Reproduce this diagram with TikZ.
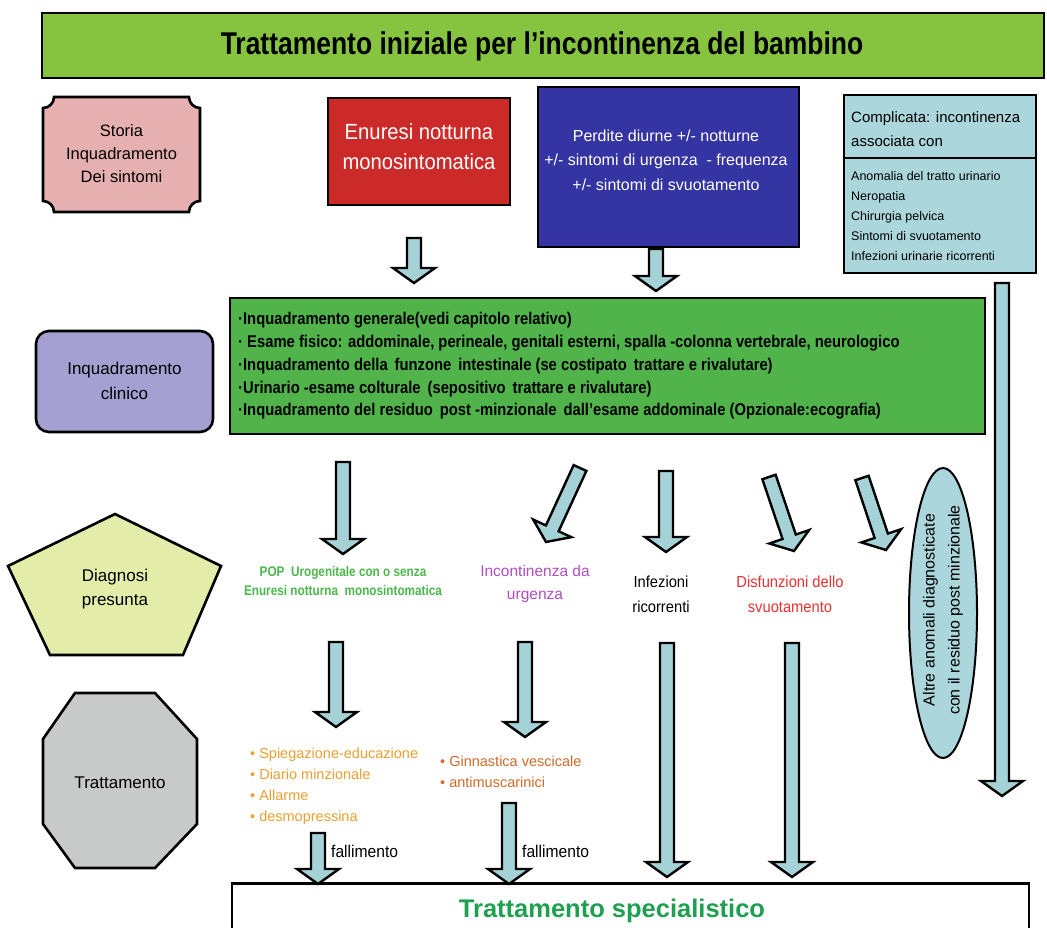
\documentclass[tikz,border=0pt]{standalone}
\usepackage{fontspec}
\setmainfont{Liberation Sans}
\newfontfamily\narrowfont[FakeStretch=0.84]{Liberation Sans}
\newfontfamily\bodyfont[FakeStretch=0.87]{Liberation Sans}
\newfontfamily\semifont[FakeStretch=0.92]{Liberation Sans}
\usetikzlibrary{calc,shapes.geometric}

\definecolor{titlegreen}{HTML}{86C440}
\definecolor{storiapink}{HTML}{E6B0B0}
\definecolor{enured}{HTML}{CC2A28}
\definecolor{navyblue}{HTML}{3434A2}
\definecolor{palecyan}{HTML}{AAD6DC}
\definecolor{lavender}{HTML}{A5A0D2}
\definecolor{clingreen}{HTML}{50B44B}
\definecolor{paleyellow}{HTML}{E4ECAA}
\definecolor{octgrey}{HTML}{C8CACA}
\definecolor{arrowfill}{HTML}{A5D2D7}
\definecolor{popgreen}{HTML}{4DB84D}
\definecolor{urgpurple}{HTML}{B050BE}
\definecolor{disfred}{HTML}{E83232}
\definecolor{orangeA}{HTML}{EBA032}
\definecolor{orangeB}{HTML}{D2692A}
\definecolor{specgreen}{HTML}{1EA050}

\newcommand{\fsz}[2]{\fontsize{#1pt}{#2pt}\selectfont}
% block arrow geometry: shaft half width, head half width, head length
\newcommand{\bsw}{7pt}
\newcommand{\bhw}{21pt}
\newcommand{\bhl}{15pt}

\tikzset{
  frame/.style={draw=black, line width=2.6pt},
  lbl/.style={align=center, inner sep=0pt},
  barrow/.style={draw=black, fill=arrowfill, line width=2.4pt, line join=miter,
    to path={let \p1=(\tikztostart), \p2=(\tikztotarget),
      \n1={atan2(\y2-\y1,\x2-\x1)}, \n2={veclen(\x2-\x1,\y2-\y1)-\bhl} in
      ($(\p1)+(\n1+90:\bsw)$) -- ($(\p1)+(\n1:\n2)+(\n1+90:\bsw)$)
      -- ($(\p1)+(\n1:\n2)+(\n1+90:\bhw)$) -- (\p2)
      -- ($(\p1)+(\n1:\n2)+(\n1-90:\bhw)$) -- ($(\p1)+(\n1:\n2)+(\n1-90:\bsw)$)
      -- ($(\p1)+(\n1-90:\bsw)$) -- cycle}},
}

\begin{document}
\begin{tikzpicture}[x=1pt,y=-1pt]
\clip (0,0) rectangle (1047,928);
\fill[white] (0,0) rectangle (1047,928);

% title bar
\node[frame, fill=titlegreen, minimum width=1002pt, minimum height=65pt, inner sep=0pt]
  (title) at (543,45.5) {};
\node[lbl, font=\narrowfont\bfseries\fsz{31.5}{36}] (titletext) at (542,46)
  {Trattamento iniziale per l’incontinenza del bambino};

% left column: stage labels
\draw[frame, fill=storiapink]
  (54,97) -- (189,97) arc[start angle=180,end angle=270,radius=11pt]
  -- (200,201) arc[start angle=90,end angle=180,radius=11pt]
  -- (54,212) arc[start angle=0,end angle=90,radius=11pt]
  -- (43,108) arc[start angle=270,end angle=360,radius=11pt] -- cycle;
\node[lbl, font=\fsz{16.5}{23}] (storia) at (121.5,154) {Storia\\Inquadramento\\Dei sintomi};

\node[frame, fill=lavender, rounded corners=13pt, minimum width=177pt, minimum height=101pt]
  (clinico) at (124.5,381.5) {};
\node[lbl, font=\fsz{17}{24.5}] (clinicotext) at (124.5,381) {Inquadramento\\clinico};

\draw[frame, fill=paleyellow, line join=miter]
  (115,514) -- (221,566) -- (183,655) -- (50,655) -- (8,566) -- cycle;
\node[lbl, font=\fsz{17}{23.5}] (diagnosi) at (115,589) {Diagnosi\\presunta};

\draw[frame, fill=octgrey, line join=miter]
  (75,693) -- (155,693) -- (197,739) -- (197,824) -- (155,868) -- (75,868)
  -- (43,824) -- (43,739) -- cycle;
\node[lbl, font=\fsz{17}{20}] (trattamento) at (120,783) {Trattamento};

% presenting symptoms
\node[frame, fill=enured, minimum width=182pt, minimum height=107pt] (enuresi) at (419,151.5) {};
\node[lbl, text=white, font=\semifont\fsz{22}{30}] (enuresitext) at (419,147)
  {Enuresi notturna\\monosintomatica};

\node[frame, fill=navyblue, minimum width=261pt, minimum height=160pt] (perdite) at (668.5,167) {};
\node[lbl, text=white, font=\fsz{16}{24.5}] (perditetext) at (666,160)
  {Perdite diurne +/- notturne\\+/- sintomi di urgenza \ - frequenza\\+/- sintomi di svuotamento};

\node[frame, fill=palecyan, minimum width=192pt, minimum height=178pt] (complicata) at (940,184) {};
\draw[line width=2pt] (complicata.west |- 0,158) -- (complicata.east |- 0,158);
\node[lbl, align=left, anchor=west, font=\fsz{15}{24}] (complhead) at (851,129.5)
  {Complicata: incontinenza\\associata con};
\node[lbl, align=left, anchor=west, font=\fsz{12.5}{20.2}] (compllist) at (851,216)
  {Anomalia del tratto urinario\\Neropatia\\Chirurgia pelvica\\Sintomi di svuotamento\\Infezioni urinarie ricorrenti};

% clinical assessment
\node[frame, fill=clingreen, minimum width=755pt, minimum height=136pt] (esame) at (607.5,366) {};
\node[lbl, align=left, anchor=west, font=\bodyfont\bfseries\fsz{17}{22.8}] (esametext) at (238,366)
  {·Inquadramento generale(vedi capitolo relativo)\\
   · Esame fisico: addominale, perineale, genitali esterni, spalla -colonna vertebrale, neurologico\\
   ·Inquadramento della \,funzone \,intestinale (se costipato \,trattare e rivalutare)\\
   ·Urinario -esame colturale \,(sepositivo \,trattare e rivalutare)\\
   ·Inquadramento del residuo \,post -minzionale \,dall’esame addominale (Opzionale:ecografia)};

% presumed diagnoses
\node[lbl, text=popgreen, font=\narrowfont\bfseries\fsz{14}{18.5}] (pop) at (343,581)
  {POP \ Urogenitale con o senza\\Enuresi notturna \ monosintomatica};
\node[lbl, text=urgpurple, font=\fsz{15.5}{22.5}] (urgenza) at (535,584) {Incontinenza da\\urgenza};
\node[lbl, font=\semifont\fsz{16}{25}] (infezioni) at (661,594) {Infezioni\\ricorrenti};
\node[lbl, text=disfred, font=\semifont\fsz{16}{25}] (disfunzioni) at (790,594) {Disfunzioni dello\\svuotamento};
\node[frame, line width=2pt, fill=palecyan, ellipse, minimum width=68pt, minimum height=290pt, inner sep=0pt]
  (altre) at (943,613) {};
\node[lbl, rotate=90, font=\fsz{16}{25}] (altretext) at (943,610)
  {Altre anomali diagnosticate\\con il residuo post minzionale};

% treatments
\node[lbl, align=left, anchor=west, text=orangeA, font=\fsz{14.5}{21}] (terapiaA) at (250,786.5)
  {• Spiegazione-educazione\\• Diario minzionale\\• Allarme\\• desmopressina};
\node[lbl, align=left, anchor=west, text=orangeB, font=\fsz{14.5}{21}] (terapiaB) at (440,771.5)
  {• Ginnastica vescicale\\• antimuscarinici};
\node[lbl, anchor=west, font=\semifont\fsz{17}{18}] (fallA) at (331,851) {fallimento};
\node[lbl, anchor=west, font=\semifont\fsz{17}{18}] (fallB) at (522,851) {fallimento};

% specialist referral
\node[frame, fill=white, minimum width=797pt, minimum height=80pt, anchor=north] (special) at (630.5,882) {};
\node[lbl, text=specgreen, font=\bfseries\fsz{25.5}{30}] (specialtext) at (612,911) {Trattamento specialistico};

% arrow end points
\coordinate (e1a) at (414,238);  \coordinate (e1b) at (414,283);
\coordinate (e2a) at (656,249);  \coordinate (e2b) at (656,291);
\coordinate (cxa) at (1002,283); \coordinate (cxb) at (1002,796);
\coordinate (d1a) at (343,462);  \coordinate (d1b) at (343,554);
\coordinate (d2a) at (580,468);  \coordinate (d2b) at (546,542);
\coordinate (d3a) at (666,471);  \coordinate (d3b) at (666,552);
\coordinate (d4a) at (769,477);  \coordinate (d4b) at (794,551);
\coordinate (d5a) at (862,478);  \coordinate (d5b) at (886,550);
\coordinate (t1a) at (336,642);  \coordinate (t1b) at (336,727);
\coordinate (t2a) at (525,642);  \coordinate (t2b) at (525,737);
\coordinate (f1a) at (318,833);  \coordinate (f1b) at (318,884);
\coordinate (f2a) at (509,803);  \coordinate (f2b) at (509,884);
\coordinate (s1a) at (667,643);  \coordinate (s1b) at (667,877);
\coordinate (s2a) at (792,643);  \coordinate (s2b) at (792,877);

% block arrows
\draw[barrow] (e1a) to (e1b);
\draw[barrow] (e2a) to (e2b);
\draw[barrow] (cxa) to (cxb);
\draw[barrow] (d1a) to (d1b);
\draw[barrow] (d2a) to (d2b);
\draw[barrow] (d3a) to (d3b);
\draw[barrow] (d4a) to (d4b);
\draw[barrow] (d5a) to (d5b);
\draw[barrow] (t1a) to (t1b);
\draw[barrow] (t2a) to (t2b);
\draw[barrow] (f1a) to (f1b);
\draw[barrow] (f2a) to (f2b);
\draw[barrow] (s1a) to (s1b);
\draw[barrow] (s2a) to (s2b);
\end{tikzpicture}
\end{document}
